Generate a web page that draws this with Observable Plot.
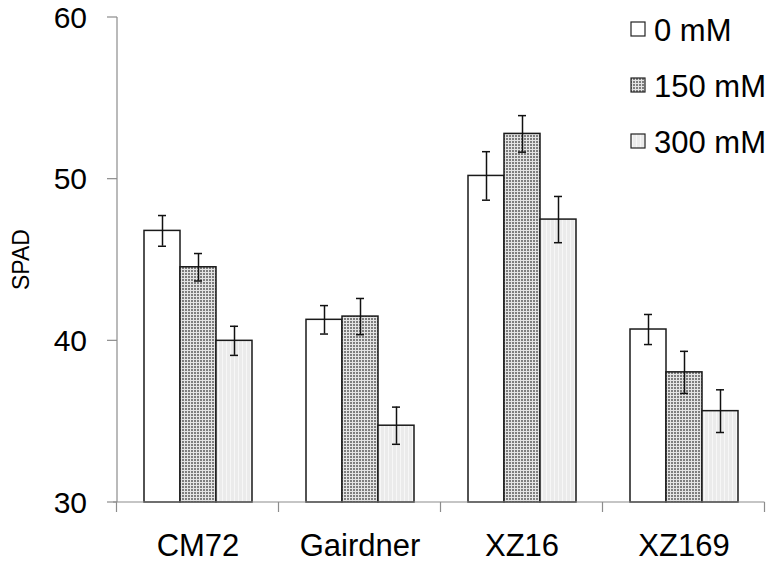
<!DOCTYPE html>
<html><head><meta charset="utf-8">
<script src="https://cdn.jsdelivr.net/npm/d3@7"></script>
<script src="https://cdn.jsdelivr.net/npm/@observablehq/plot@0.6"></script>
<style>
body{margin:0;background:#fff;}
#chart svg{font-family:Arial,"Liberation Sans",sans-serif;}
</style></head><body><div id="chart"></div>
<script>
const groups = ["CM72", "Gairdner", "XZ16", "XZ169"];
const series = ["0 mM", "150 mM", "300 mM"];
const mean0   = [46.8, 41.3, 50.2, 40.7];
const mean150 = [44.55, 41.5, 52.8, 38.05];
const mean300 = [40.0, 34.75, 47.5, 35.65];
const err0    = [0.95, 0.88, 1.5, 0.93];
const err150  = [0.85, 1.12, 1.13, 1.3];
const err300  = [0.9, 1.15, 1.43, 1.32];
const yTicks  = [30, 40, 50, 60];
const yLabel  = "SPAD";

const means = [mean0, mean150, mean300];
const errs = [err0, err150, err300];
const rows = [];
groups.forEach((g, i) => series.forEach((s, j) => rows.push({group: g, series: s, mean: means[j][i], err: errs[j][i]})));
const fills = {"0 mM": "white", "150 mM": "url(#pGrid)", "300 mM": "url(#pLight)"};

const ML = 117, MT = 17, MB = 67, MR = 12;
const plot = Plot.plot({
  width: 775, height: 569,
  marginLeft: ML, marginRight: MR, marginTop: MT, marginBottom: MB,
  style: {fontFamily: "Arial, 'Liberation Sans', sans-serif", fontSize: "31px", background: "white", color: "black"},
  facet: {data: rows, x: "group", label: null},
  fx: {domain: groups, paddingInner: 0.33, paddingOuter: 0.15, tickSize: 0, tickPadding: 31, label: null, axis: "bottom"},
  x: {domain: series, padding: 0, axis: null},
  y: {domain: [30, 60], axis: null},
  color: {type: "identity"},
  marks: [
    Plot.barY(rows, {x: "series", y1: 30, y2: "mean", fill: d => fills[d.series], stroke: "#1a1a1a", strokeWidth: 1.5}),
    Plot.ruleX(rows, {x: "series", y1: d => d.mean - d.err, y2: d => d.mean + d.err, stroke: "#111", strokeWidth: 1.5}),
    Plot.tickY(rows, {x: "series", y: d => d.mean + d.err, insetLeft: 14, insetRight: 14, stroke: "#111", strokeWidth: 1.5}),
    Plot.tickY(rows, {x: "series", y: d => d.mean - d.err, insetLeft: 14, insetRight: 14, stroke: "#111", strokeWidth: 1.5})
  ]
});

const svg = d3.select(plot);
const defs = svg.insert("defs", ":first-child");
const pg = defs.append("pattern").attr("id", "pGrid").attr("patternUnits", "userSpaceOnUse").attr("width", 3).attr("height", 3);
pg.append("rect").attr("width", 3).attr("height", 3).attr("fill", "#e4e4e4");
pg.append("rect").attr("width", 2).attr("height", 2).attr("fill", "#7e7e7e");
const pl = defs.append("pattern").attr("id", "pLight").attr("patternUnits", "userSpaceOnUse").attr("width", 4).attr("height", 4);
pl.append("rect").attr("width", 4).attr("height", 4).attr("fill", "#ebebeb");
pl.append("rect").attr("width", 1).attr("height", 4).attr("fill", "#f7f7f7");

const fxs = plot.scale("fx"), ys = plot.scale("y");
const step = fxs.step, bw = fxs.bandwidth;
const x0 = fxs.apply(groups[0]) - (step - bw) / 2;
const yb = ys.apply(yTicks[0]);
const ax = svg.append("g").attr("stroke", "#8c8c8c").attr("stroke-width", 1.2);

// y axis
ax.append("line").attr("x1", ML).attr("x2", ML).attr("y1", ys.apply(yTicks[yTicks.length - 1])).attr("y2", yb);
yTicks.forEach(t => {
  ax.append("line").attr("x1", ML - 10).attr("x2", ML).attr("y1", ys.apply(t)).attr("y2", ys.apply(t));
  svg.append("text").attr("x", ML - 30).attr("y", ys.apply(t)).attr("dy", "0.35em")
    .attr("text-anchor", "end").attr("font-size", 30).attr("fill", "black").text(t);
});

// x baseline with ticks at group boundaries
ax.append("line").attr("x1", ML - 4).attr("x2", x0 + groups.length * step).attr("y1", yb).attr("y2", yb);
d3.range(groups.length + 1).forEach(i => {
  const xx = x0 + i * step;
  ax.append("line").attr("x1", xx).attr("x2", xx).attr("y1", yb).attr("y2", yb + 10);
});

// y label
const yr = ys.range;
svg.append("text").attr("transform", `translate(29,${(yr[0] + yr[1]) / 2}) rotate(-90)`)
  .attr("text-anchor", "middle").attr("font-size", 23).attr("fill", "black").text(yLabel);

// legend
const lg = svg.append("g").attr("text-anchor", "start");
series.forEach((s, j) => {
  lg.append("rect").attr("x", 631).attr("y", 22 + 56 * j).attr("width", 14).attr("height", 14)
    .attr("fill", fills[s]).attr("stroke", "#222").attr("stroke-width", 1.2);
  lg.append("text").attr("x", 654).attr("y", 30 + 56 * j).attr("dy", "0.35em")
    .attr("font-size", 31).attr("fill", "black").text(s);
});

document.getElementById("chart").appendChild(plot);
</script>
</body></html>
